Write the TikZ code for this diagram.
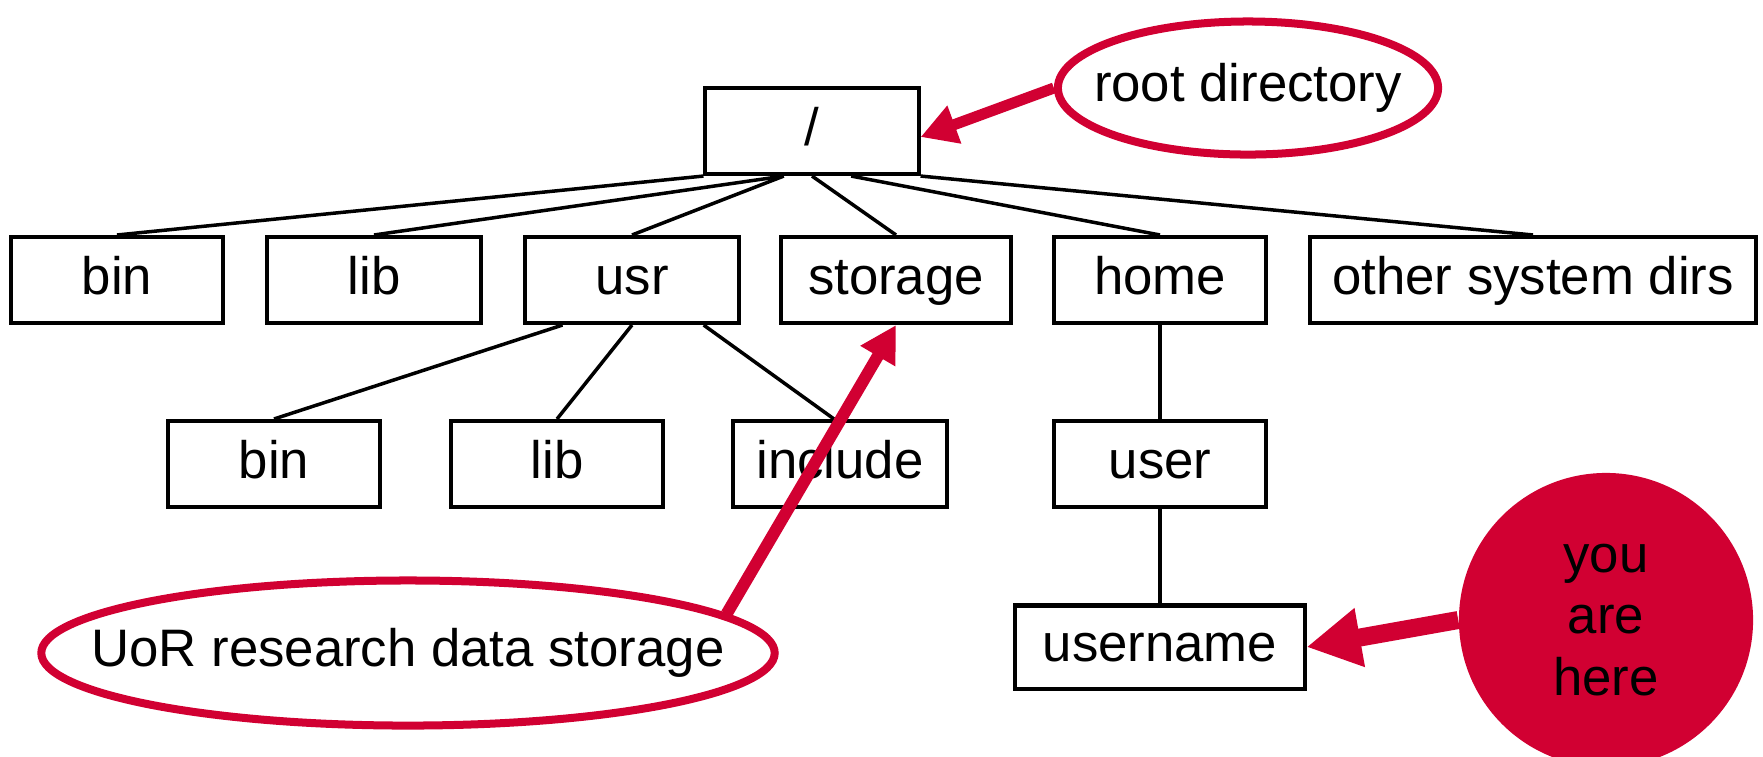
\documentclass[tikz,border=0pt]{standalone}
\usepackage{fontspec}
\setmainfont{Liberation Sans}
\usetikzlibrary{calc, arrows.meta, shapes.geometric}
\definecolor{uorred}{RGB}{209,0,50}
\tikzset{
    dirbox/.style={draw, line width=0.04cm, minimum width=2.12cm, minimum height=0.86cm,
        inner sep=0pt, text height=0.8em, text depth=0pt},
    branch/.style={line width=0.035cm},
    bubble/.style={ellipse, draw=uorred, line width=0.08cm, inner ysep=0pt},
    callout/.style={draw=uorred, line width=0.11cm, -{Triangle[length=3.6mm, width=3.8mm]}},
    common settings/.style={
        font=\fontsize{15}{17.6}\selectfont,
        x={(0.01cm, 0cm)},
        y={(0cm, -0.01cm)}
    }
}

\begin{document}
\begin{tikzpicture}[common settings]

    \def\ra{280}  % first level
    \def\rb{464}  % second level
    \def\rc{647}  % third level

    \clip (0,0) rectangle (1763,756);

    % Root
    \node[dirbox, minimum width=2.13cm] (root) at (812,131) {/};

    % First level below /
    \node[dirbox] (bin) at (117,\ra) {bin};
    \node[dirbox, minimum width=2.13cm] (lib) at (374,\ra) {lib};
    \node[dirbox, minimum width=2.13cm] (usr) at (632,\ra) {usr};
    \node[dirbox, minimum width=2.29cm] (storage) at (896,\ra) {storage};
    \node[dirbox] (home) at (1160,\ra) {home};
    \node[dirbox, minimum width=4.46cm] (other) at (1533,\ra) {other system dirs};

    % Second level
    \node[dirbox] (usrbin) at (274,\rb) {bin};
    \node[dirbox] (usrlib) at (557,\rb) {lib};
    \node[dirbox, minimum width=2.13cm] (include) at (840,\rb) {include};
    \node[dirbox] (user) at (1160,\rb) {user};

    % Third level
    \node[dirbox, minimum width=2.89cm, minimum height=0.83cm] (username) at (1160,\rc) {username};

    % Branches from /
    \draw[branch] (root.south west) -- (bin.north);
    \draw[branch] ($(root.south west)!0.37!(root.south east)$) -- (lib.north);
    \draw[branch] ($(root.south west)!0.37!(root.south east)$) -- (usr.north);
    \draw[branch] (root.south) -- (storage.north);
    \draw[branch] ($(root.south west)!0.68!(root.south east)$) -- (home.north);
    \draw[branch] (root.south east) -- (other.north);

    % Branches from usr and home
    \draw[branch] ($(usr.south west)!0.18!(usr.south east)$) -- (usrbin.north);
    \draw[branch] (usr.south) -- (usrlib.north);
    \draw[branch] ($(usr.south west)!0.83!(usr.south east)$) -- ([xshift=-0.06cm]include.north);
    \draw[branch] (home.south) -- (user.north);
    \draw[branch] (user.south) -- (username.north);

    % Callouts (negative xsep keeps the ellipses tight round the text)
    \node[bubble, inner xsep=-0.2cm, minimum width=3.80cm, minimum height=1.33cm] (rootnote) at (1248,88) {root directory};
    \node[bubble, inner xsep=-0.58cm, minimum width=7.33cm, minimum height=1.45cm] (storagenote) at (408,653) {UoR research data storage};
    \node[circle, fill=uorred, minimum size=2.94cm, inner sep=0pt, align=center] (here) at (1606,620) {you\\are\\here};

    \draw[callout] (rootnote.west) -- ([yshift=-0.06cm]root.east);
    \draw[callout, line width=0.12cm] (storagenote.7) -- (storage.south);
    \draw[callout, line width=0.18cm, -{Triangle[length=5.4mm, width=5.6mm]}] (here.west) -- (username.east);

\end{tikzpicture}
\end{document}
